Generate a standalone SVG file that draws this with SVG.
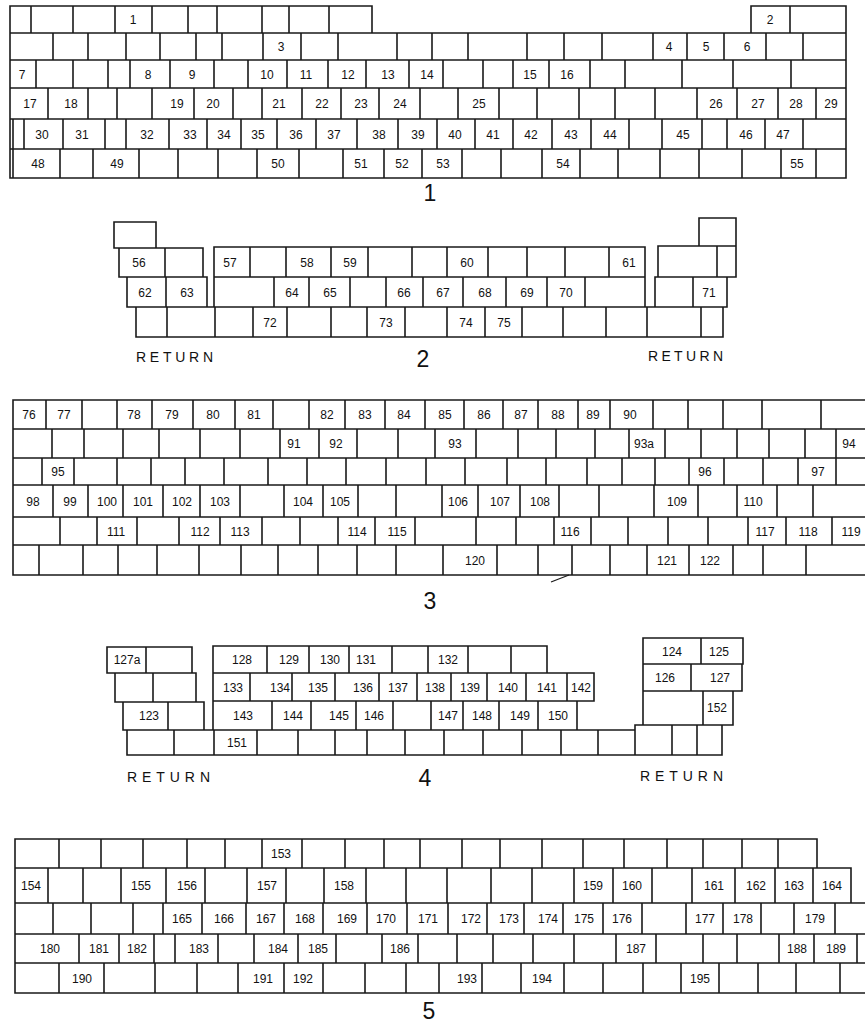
<svg xmlns="http://www.w3.org/2000/svg" width="865" height="1023" viewBox="0 0 865 1023">
<style>
.w{fill:none;stroke:#1a1a1a;stroke-width:1.6;stroke-linejoin:miter}
.n{font-family:"Liberation Sans","DejaVu Sans",sans-serif;font-size:12px;fill:#111;text-anchor:middle}
.cap{font-family:"Liberation Sans","DejaVu Sans",sans-serif;font-size:23px;fill:#111;text-anchor:middle}
.ret{font-family:"Liberation Sans","DejaVu Sans",sans-serif;font-size:14px;fill:#111}
</style>
<rect width="865" height="1023" fill="#ffffff"/>

<g id="course1">
<path class="w" d="M10 6H372V33H10Z M31 6V33M73 6V33M115 6V33M152 6V33M188 6V33M217 6V33M262 6V33M289 6V33M329 6V33
M751 6H846V33H751Z M790 6V33
M10 33H846V60H10Z M53 33V60M88 33V60M126 33V60M160 33V60M196 33V60M222 33V60M263 33V60M301 33V60M338 33V60M397 33V60M432 33V60M468 33V60M527 33V60M564 33V60M602 33V60M653 33V60M687 33V60M724 33V60M766 33V60M803 33V60
M10 60H846V88H10Z M36 60V88M73 60V88M108 60V88M130 60V88M170 60V88M214 60V88M248 60V88M287 60V88M328 60V88M366 60V88M409 60V88M443 60V88M483 60V88M513 60V88M549 60V88M590 60V88M625 60V88M682 60V88M733 60V88M791 60V88
M10 88H846V119H10Z M48 88V119M88 88V119M117 88V119M152 88V119M194 88V119M233 88V119M262 88V119M302 88V119M341 88V119M379 88V119M420 88V119M458 88V119M499 88V119M537 88V119M579 88V119M615 88V119M655 88V119M697 88V119M737 88V119M778 88V119M816 88V119
M10 119H846V149H10Z M24 119V149M63 119V149M105 119V149M126 119V149M169 119V149M207 119V149M241 119V149M277 119V149M316 119V149M357 119V149M398 119V149M437 119V149M475 119V149M513 119V149M552 119V149M591 119V149M629 119V149M662 119V149M702 119V149M727 119V149M765 119V149M803 119V149
M10 149H846V178H10Z M60 149V178M93 149V178M139 149V178M178 149V178M218 149V178M257 149V178M299 149V178M343 149V178M384 149V178M422 149V178M462 149V178M501 149V178M542 149V178M580 149V178M618 149V178M660 149V178M699 149V178M742 149V178M781 149V178M816 149V178
M13 119V178"/>
<g class="n">
<text x="133" y="24">1</text><text x="770" y="24">2</text>
<text x="281" y="51">3</text><text x="669" y="51">4</text><text x="706" y="51">5</text><text x="747" y="51">6</text>
<text x="22" y="79">7</text><text x="148" y="79">8</text><text x="192" y="79">9</text><text x="267" y="79">10</text><text x="306" y="79">11</text><text x="348" y="79">12</text><text x="388" y="79">13</text><text x="427" y="79">14</text><text x="530" y="79">15</text><text x="567" y="79">16</text>
<text x="30" y="108">17</text><text x="71" y="108">18</text><text x="177" y="108">19</text><text x="213" y="108">20</text><text x="279" y="108">21</text><text x="322" y="108">22</text><text x="361" y="108">23</text><text x="400" y="108">24</text><text x="479" y="108">25</text><text x="716" y="108">26</text><text x="758" y="108">27</text><text x="796" y="108">28</text><text x="831" y="108">29</text>
<text x="42" y="139">30</text><text x="82" y="139">31</text><text x="147" y="139">32</text><text x="190" y="139">33</text><text x="224" y="139">34</text><text x="258" y="139">35</text><text x="296" y="139">36</text><text x="334" y="139">37</text><text x="379" y="139">38</text><text x="418" y="139">39</text><text x="455" y="139">40</text><text x="493" y="139">41</text><text x="531" y="139">42</text><text x="571" y="139">43</text><text x="610" y="139">44</text><text x="683" y="139">45</text><text x="746" y="139">46</text><text x="783" y="139">47</text>
<text x="38" y="168">48</text><text x="117" y="168">49</text><text x="278" y="168">50</text><text x="361" y="168">51</text><text x="402" y="168">52</text><text x="443" y="168">53</text><text x="563" y="168">54</text><text x="797" y="168">55</text>
</g>
<text class="cap" x="430" y="201">1</text>
</g>

<g id="course2">
<path class="w" d="M114 222H156V248H114Z
M119 248H203V277H119Z M114 248H119 M165 248V277
M214 247H645V277H214Z M250 247V277M286 247V277M331 247V277M368 247V277M412 247V277M447 247V277M488 247V277M527 247V277M565 247V277M609 247V277
M699 218H736V246H699Z
M658 246H736V277H658Z M717 246V277
M127 277H207V307H127Z M166 277V307
M214 277H645V307H214Z M274 277V307M309 277V307M350 277V307M386 277V307M423 277V307M463 277V307M506 277V307M547 277V307M585 277V307
M655 277H727V307H655Z M693 277V307
M136 307H723V337H136Z M167 307V337M215 307V337M253 307V337M287 307V337M331 307V337M367 307V337M405 307V337M447 307V337M485 307V337M522 307V337M563 307V337M606 307V337M647 307V337M701 307V337"/>
<g class="n">
<text x="139" y="267">56</text><text x="230" y="267">57</text><text x="307" y="267">58</text><text x="350" y="267">59</text><text x="467" y="267">60</text><text x="629" y="267">61</text>
<text x="145" y="297">62</text><text x="187" y="297">63</text><text x="292" y="297">64</text><text x="330" y="297">65</text><text x="404" y="297">66</text><text x="443" y="297">67</text><text x="485" y="297">68</text><text x="527" y="297">69</text><text x="566" y="297">70</text><text x="709" y="297">71</text>
<text x="270" y="327">72</text><text x="386" y="327">73</text><text x="466" y="327">74</text><text x="504" y="327">75</text>
</g>
<text class="ret" x="136" y="362" textLength="77" lengthAdjust="spacing">RETURN</text>
<text class="ret" x="648" y="361" textLength="75" lengthAdjust="spacing">RETURN</text>
<text class="cap" x="423" y="367">2</text>
</g>

<g id="course3">
<path class="w" d="M13 400H870V429H13Z M46 400V429M82 400V429M117 400V429M152 400V429M193 400V429M235 400V429M273 400V429M309 400V429M345 400V429M385 400V429M425 400V429M464 400V429M503 400V429M538 400V429M578 400V429M610 400V429M653 400V429M688 400V429M723 400V429M762 400V429M821 400V429
M13 429H870V458H13Z M52 429V458M84 429V458M123 429V458M159 429V458M200 429V458M240 429V458M280 429V458M319 429V458M357 429V458M398 429V458M435 429V458M476 429V458M518 429V458M556 429V458M595 429V458M629 429V458M665 429V458M701 429V458M737 429V458M769 429V458M805 429V458M836 429V458
M13 458H870V485H13Z M42 458V485M74 458V485M117 458V485M151 458V485M185 458V485M224 458V485M268 458V485M307 458V485M346 458V485M386 458V485M426 458V485M465 458V485M507 458V485M546 458V485M587 458V485M622 458V485M655 458V485M689 458V485M724 458V485M763 458V485M798 458V485M836 458V485
M13 485H870V517H13Z M53 485V517M88 485V517M123 485V517M163 485V517M200 485V517M240 485V517M284 485V517M323 485V517M358 485V517M396 485V517M442 485V517M478 485V517M520 485V517M559 485V517M599 485V517M654 485V517M698 485V517M737 485V517M777 485V517M813 485V517
M13 517H870V545H13Z M60 517V545M97 517V545M137 517V545M179 517V545M220 517V545M262 517V545M300 517V545M338 517V545M375 517V545M415 517V545M476 517V545M516 517V545M554 517V545M591 517V545M628 517V545M668 517V545M708 517V545M748 517V545M786 517V545M832 517V545
M13 545H870V575H13Z M39 545V575M83 545V575M118 545V575M157 545V575M199 545V575M241 545V575M278 545V575M318 545V575M357 545V575M396 545V575M443 545V575M497 545V575M538 545V575M572 545V575M610 545V575M647 545V575M689 545V575M733 545V575M763 545V575M806 545V575"/>
<path d="M551 582L569 575" fill="none" stroke="#1a1a1a" stroke-width="1.2"/>
<g class="n">
<text x="29" y="419">76</text><text x="64" y="419">77</text><text x="134" y="419">78</text><text x="172" y="419">79</text><text x="213" y="419">80</text><text x="254" y="419">81</text><text x="327" y="419">82</text><text x="365" y="419">83</text><text x="404" y="419">84</text><text x="445" y="419">85</text><text x="484" y="419">86</text><text x="521" y="419">87</text><text x="558" y="419">88</text><text x="593" y="419">89</text><text x="630" y="419">90</text>
<text x="294" y="448">91</text><text x="336" y="448">92</text><text x="455" y="448">93</text><text x="644" y="448">93a</text><text x="849" y="448">94</text>
<text x="58" y="476">95</text><text x="705" y="476">96</text><text x="818" y="476">97</text>
<text x="33" y="506">98</text><text x="70" y="506">99</text><text x="107" y="506">100</text><text x="143" y="506">101</text><text x="182" y="506">102</text><text x="220" y="506">103</text><text x="303" y="506">104</text><text x="340" y="506">105</text><text x="458" y="506">106</text><text x="500" y="506">107</text><text x="540" y="506">108</text><text x="677" y="506">109</text><text x="753" y="506">110</text>
<text x="116" y="536">111</text><text x="200" y="536">112</text><text x="240" y="536">113</text><text x="357" y="536">114</text><text x="397" y="536">115</text><text x="570" y="536">116</text><text x="765" y="536">117</text><text x="808" y="536">118</text><text x="851" y="536">119</text>
<text x="475" y="565">120</text><text x="667" y="565">121</text><text x="710" y="565">122</text>
</g>
<text class="cap" x="430" y="609">3</text>
</g>

<g id="course4">
<path class="w" d="M107 647H192V673H107Z M146 647V673
M115 673H196V702H115Z M153 673V702
M123 702H204V730H123Z M168 702V730
M213 646H547V673H213Z M267 646V673M309 646V673M349 646V673M392 646V673M428 646V673M468 646V673M511 646V673
M213 673H594V701H213Z M250 673V701M292 673V701M335 673V701M379 673V701M417 673V701M451 673V701M487 673V701M526 673V701M567 673V701
M213 701H577V730H213Z M272 701V730M311 701V730M356 701V730M393 701V730M431 701V730M463 701V730M499 701V730M538 701V730
M643 638H743V664H643Z M701 638V664
M643 664H742V691H643Z M691 664V691
M643 691H733V725H643Z M703 691V725
M127 730H635V725H722V755H127Z M174 730V755M214 730V755M257 730V755M298 730V755M335 730V755M367 730V755M405 730V755M444 730V755M483 730V755M522 730V755M561 730V755M598 730V755M635 725V755M672 725V755M697 725V755"/>
<g class="n">
<text x="127" y="664">127a</text>
<text x="149" y="720">123</text>
<text x="242" y="664">128</text><text x="289" y="664">129</text><text x="330" y="664">130</text><text x="366" y="664">131</text><text x="448" y="664">132</text>
<text x="233" y="692">133</text><text x="280" y="692">134</text><text x="318" y="692">135</text><text x="363" y="692">136</text><text x="398" y="692">137</text><text x="435" y="692">138</text><text x="470" y="692">139</text><text x="508" y="692">140</text><text x="547" y="692">141</text><text x="581" y="692">142</text>
<text x="243" y="720">143</text><text x="293" y="720">144</text><text x="339" y="720">145</text><text x="374" y="720">146</text><text x="448" y="720">147</text><text x="482" y="720">148</text><text x="520" y="720">149</text><text x="558" y="720">150</text>
<text x="237" y="747">151</text>
<text x="672" y="656">124</text><text x="719" y="656">125</text>
<text x="665" y="682">126</text><text x="720" y="682">127</text>
<text x="717" y="712">152</text>
</g>
<text class="ret" x="127" y="782" textLength="83" lengthAdjust="spacing">RETURN</text>
<text class="ret" x="640" y="781" textLength="83" lengthAdjust="spacing">RETURN</text>
<text class="cap" x="425" y="786">4</text>
</g>

<g id="course5">
<path class="w" d="M15 839H817V868H15Z M59 839V868M101 839V868M143 839V868M187 839V868M225 839V868M262 839V868M302 839V868M345 839V868M384 839V868M420 839V868M462 839V868M500 839V868M542 839V868M583 839V868M624 839V868M667 839V868M703 839V868M742 839V868M778 839V868
M15 868H851V903H15Z M48 868V903M83 868V903M121 868V903M166 868V903M205 868V903M247 868V903M286 868V903M324 868V903M366 868V903M406 868V903M447 868V903M491 868V903M532 868V903M574 868V903M613 868V903M652 868V903M692 868V903M735 868V903M775 868V903M813 868V903
M15 903H870V934H15Z M53 903V934M91 903V934M133 903V934M163 903V934M202 903V934M246 903V934M284 903V934M323 903V934M367 903V934M407 903V934M448 903V934M487 903V934M524 903V934M563 903V934M603 903V934M642 903V934M686 903V934M723 903V934M761 903V934M794 903V934M835 903V934
M15 934H870V963H15Z M79 934V963M119 934V963M154 934V963M175 934V963M218 934V963M254 934V963M298 934V963M336 934V963M382 934V963M418 934V963M457 934V963M493 934V963M533 934V963M574 934V963M616 934V963M656 934V963M703 934V963M737 934V963M779 934V963M814 934V963M857 934V963
M15 963H870V993H15Z M59 963V993M104 963V993M155 963V993M197 963V993M238 963V993M284 963V993M323 963V993M365 963V993M406 963V993M439 963V993M482 963V993M521 963V993M564 963V993M603 963V993M643 963V993M681 963V993M719 963V993M758 963V993M796 963V993M840 963V993"/>
<g class="n">
<text x="281" y="858">153</text>
<text x="31" y="890">154</text><text x="141" y="890">155</text><text x="187" y="890">156</text><text x="267" y="890">157</text><text x="344" y="890">158</text><text x="593" y="890">159</text><text x="632" y="890">160</text><text x="714" y="890">161</text><text x="756" y="890">162</text><text x="794" y="890">163</text><text x="832" y="890">164</text>
<text x="182" y="923">165</text><text x="224" y="923">166</text><text x="266" y="923">167</text><text x="305" y="923">168</text><text x="347" y="923">169</text><text x="386" y="923">170</text><text x="428" y="923">171</text><text x="471" y="923">172</text><text x="509" y="923">173</text><text x="548" y="923">174</text><text x="584" y="923">175</text><text x="622" y="923">176</text><text x="705" y="923">177</text><text x="743" y="923">178</text><text x="815" y="923">179</text>
<text x="50" y="953">180</text><text x="99" y="953">181</text><text x="137" y="953">182</text><text x="199" y="953">183</text><text x="278" y="953">184</text><text x="318" y="953">185</text><text x="400" y="953">186</text><text x="636" y="953">187</text><text x="797" y="953">188</text><text x="836" y="953">189</text>
<text x="82" y="983">190</text><text x="263" y="983">191</text><text x="303" y="983">192</text><text x="467" y="983">193</text><text x="542" y="983">194</text><text x="700" y="983">195</text>
</g>
<text class="cap" x="429" y="1019">5</text>
</g>
</svg>
